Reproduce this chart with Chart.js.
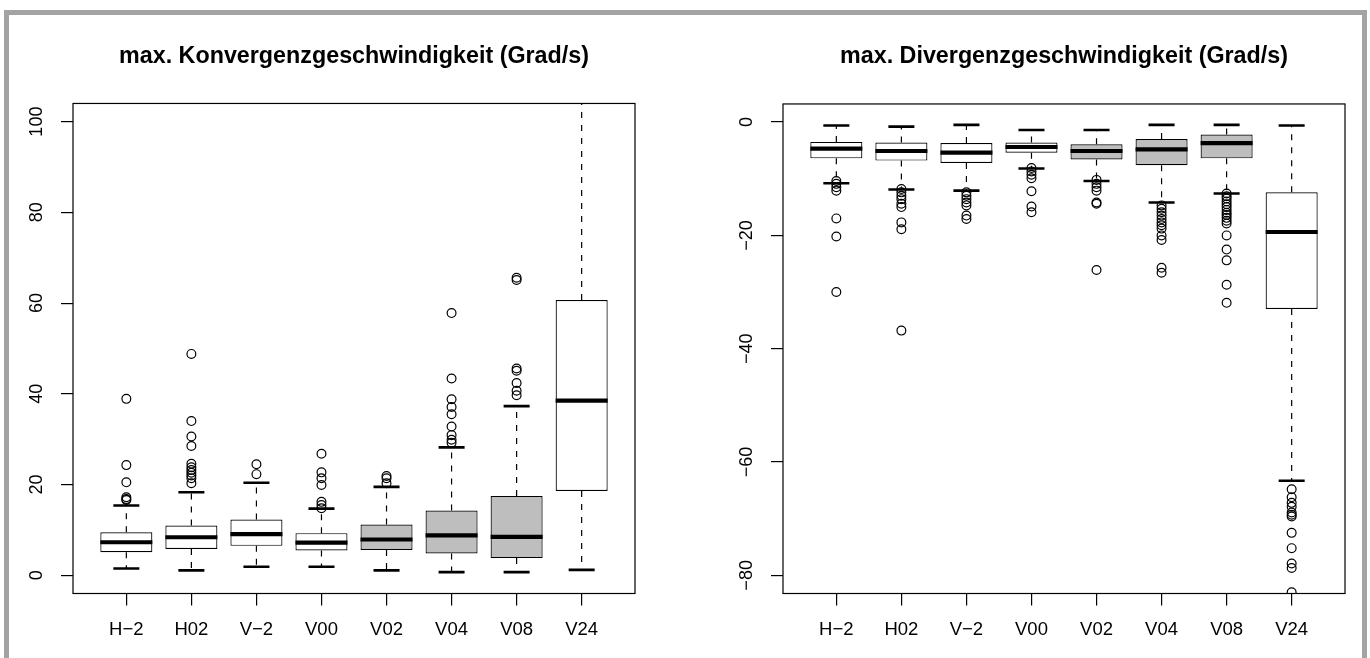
<!DOCTYPE html>
<html>
<head>
<meta charset="utf-8">
<script src="https://cdn.jsdelivr.net/npm/chart.js@4.4.1/dist/chart.umd.min.js"></script>
<style>
  body { margin: 0; background: #fff; width: 1370px; height: 658px; overflow: hidden; position: relative; }
  #frame { position: absolute; left: 4px; top: 10px; width: 1353px; height: 700px; border: 5px solid #a3a3a3; border-bottom: none; }
  #convChart { position: absolute; left: 0; top: 0; }
  #divChart { position: absolute; left: 700px; top: 0; }
</style>
</head>
<body>
<div id="frame"></div>
<canvas id="convChart" width="700" height="658"></canvas>
<canvas id="divChart" width="670" height="658"></canvas>
<script>
// categories (same for both panels)
const categories = ["H\u22122", "H02", "V\u22122", "V00", "V02", "V04", "V08", "V24"];

// max. Konvergenzgeschwindigkeit
const convLow = [1.5, 1.1, 1.9, 1.9, 1.1, 0.7, 0.7, 1.2];
const convQ1 = [5.1, 5.8, 6.5, 5.5, 5.6, 4.8, 3.8, 18.6];
const convMed = [7.3, 8.4, 9.1, 7.2, 7.9, 8.8, 8.5, 38.5];
const convQ3 = [9.5, 11.0, 12.3, 9.3, 11.2, 14.3, 17.5, 60.7];
const convHigh = [15.4, 18.3, 20.4, 14.7, 19.5, 28.2, 37.3, 130];
const convOutliers = [
  [38.9, 24.3, 20.5, 17.2, 16.8, 16.6],
  [48.8, 34.0, 30.6, 28.5, 24.6, 23.8, 23.2, 22.6, 22.0, 21.4, 20.3],
  [24.5, 22.3],
  [26.8, 22.7, 21.4, 19.9, 16.2, 15.5, 14.8],
  [21.9, 21.4, 20.3],
  [57.8, 43.4, 38.8, 37.1, 35.5, 32.8, 30.9, 29.9, 29.2],
  [65.6, 65.1, 45.6, 45.1, 42.4, 40.7, 39.7],
  [],
];
const convTicks = [0, 20, 40, 60, 80, 100];

// max. Divergenzgeschwindigkeit
const divLow = [-10.8, -11.9, -12.1, -8.2, -10.4, -14.2, -12.6, -63.3];
const divQ1 = [-6.4, -6.8, -7.2, -5.4, -6.6, -7.6, -6.4, -33.0];
const divMed = [-4.7, -5.1, -5.4, -4.4, -5.1, -4.8, -3.7, -19.4];
const divQ3 = [-3.5, -3.6, -3.7, -3.6, -3.9, -3.0, -2.2, -12.4];
const divHigh = [-0.6, -0.8, -0.5, -1.4, -1.4, -0.5, -0.5, -0.6];
const divOutliers = [
  [-10.4, -10.9, -11.5, -12.1, -17.0, -20.2, -30.0],
  [-11.8, -12.4, -13.0, -13.6, -14.4, -15.0, -17.7, -18.9, -36.8],
  [-12.4, -13.0, -13.6, -14.2, -14.7, -16.5, -17.1],
  [-8.1, -8.7, -9.3, -9.9, -12.2, -14.9, -15.9],
  [-10.2, -10.9, -11.5, -12.1, -14.2, -14.4, -26.1],
  [-14.7, -15.3, -15.9, -16.5, -17.1, -17.7, -18.2, -18.8, -20.0, -20.8, -25.7, -26.6],
  [-12.6, -13.1, -13.5, -14.0, -14.5, -15.0, -15.5, -16.0, -16.4, -16.9, -17.4, -17.9, -20.0, -22.5, -24.4, -28.7, -31.9],
  [-64.8, -66.2, -67.2, -67.9, -68.9, -69.3, -69.6, -72.5, -75.2, -77.9, -78.7, -83.0],
];
const divTicks = [-80, -60, -40, -20, 0];

// box fill per category (grey for V02, V04, V08)
const boxFill = ["#ffffff", "#ffffff", "#ffffff", "#ffffff", "#bebebe", "#bebebe", "#bebebe", "#ffffff"];

Chart.defaults.font.family = '"Liberation Sans", Arial, sans-serif';
Chart.defaults.color = "#000";

// plot frame like R's box()
const boxFrame = {
  id: "boxFrame",
  afterDatasetsDraw(chart) {
    const a = chart.chartArea;
    const ctx = chart.ctx;
    ctx.save();
    ctx.strokeStyle = "#000";
    ctx.lineWidth = 1.2;
    ctx.strokeRect(a.left, a.top, a.right - a.left, a.bottom - a.top);
    ctx.restore();
  },
};

function drawBoxplot(id, lo, q1, med, q3, hi, outliers, yMin, yMax, yTicks, title, cfg) {
  const whiskers = [];
  const caps = [];
  const medians = [];
  const boxes = [];
  const points = [];
  categories.forEach((c, i) => {
    const x = i + 1;
    whiskers.push({ x, y: q3[i] }, { x, y: hi[i] }, { x, y: null }, { x, y: q1[i] }, { x, y: lo[i] }, { x, y: null });
    caps.push({ x: x - 0.2, y: hi[i] }, { x: x + 0.2, y: hi[i] }, { x, y: null });
    caps.push({ x: x - 0.2, y: lo[i] }, { x: x + 0.2, y: lo[i] }, { x, y: null });
    medians.push({ x: x - 0.4, y: med[i] }, { x: x + 0.4, y: med[i] }, { x, y: null });
    boxes.push({ x, y: [q1[i], q3[i]] });
    outliers[i].forEach((v) => points.push({ x, y: v }));
  });

  return new Chart(document.getElementById(id), {
    type: "bar",
    data: {
      datasets: [
        {
          type: "scatter",
          data: points,
          pointStyle: "circle",
          pointRadius: 4.4,
          borderWidth: 1.2,
          borderColor: "#000",
          backgroundColor: "rgba(0,0,0,0)",
          clip: 0,
        },
        { type: "line", data: caps, borderColor: "#000", borderWidth: 2.6, pointRadius: 0, spanGaps: false, clip: 0 },
        { type: "line", data: medians, borderColor: "#000", borderWidth: 4.2, pointRadius: 0, spanGaps: false, clip: 0 },
        {
          type: "bar",
          data: boxes,
          backgroundColor: boxFill,
          borderColor: "#000",
          borderWidth: 1.2,
          borderSkipped: false,
          barPercentage: 1,
          categoryPercentage: 0.8,
          grouped: false,
        },
        {
          type: "line",
          data: whiskers,
          borderColor: "#000",
          borderWidth: 1.2,
          borderDash: [6, 7],
          pointRadius: 0,
          spanGaps: false,
          clip: 0,
        },
      ],
    },
    options: {
      responsive: false,
      animation: false,
      events: [],
      layout: { padding: { left: 0, right: cfg.padRight, top: 0, bottom: 0 } },
      plugins: {
        legend: { display: false },
        tooltip: { enabled: false },
        title: {
          display: true,
          text: title,
          fullSize: false,
          color: "#000",
          font: { size: 23.3, weight: "bold" },
          padding: { top: 43, bottom: cfg.titleBottom },
        },
      },
      scales: {
        x: {
          type: "linear",
          min: 0.18,
          max: 8.82,
          offset: false,
          afterFit: (s) => { s.height = cfg.xHeight; },
          afterBuildTicks: (s) => { s.ticks = categories.map((c, i) => ({ value: i + 1 })); },
          grid: { drawOnChartArea: false, tickLength: 12, color: "#000", lineWidth: 1.2, offset: false },
          border: { display: false },
          ticks: {
            autoSkip: false,
            maxRotation: 0,
            padding: 13,
            color: "#000",
            font: { size: 18.5 },
            callback: (v) => categories[v - 1],
          },
        },
        y: {
          type: "linear",
          min: yMin,
          max: yMax,
          afterFit: (s) => { s.width = cfg.yWidth; },
          afterBuildTicks: (s) => { s.ticks = yTicks.map((v) => ({ value: v })); },
          grid: { drawOnChartArea: false, tickLength: 12, color: "#000", lineWidth: 1.2 },
          border: { display: false },
          ticks: {
            minRotation: 90,
            maxRotation: 90,
            crossAlign: "center",
            padding: 8.5,
            color: "#000",
            font: { size: 18 },
            callback: (v) => String(v).replace("-", "\u2212"),
          },
        },
      },
    },
    plugins: [boxFrame],
  });
}

drawBoxplot("convChart", convLow, convQ1, convMed, convQ3, convHigh, convOutliers, -4, 104, convTicks,
  "max. Konvergenzgeschwindigkeit (Grad/s)", { padRight: 65, yWidth: 73, xHeight: 64.5, titleBottom: 32.5 });

drawBoxplot("divChart", divLow, divQ1, divMed, divQ3, divHigh, divOutliers, -83.2, 3.2, divTicks,
  "max. Divergenzgeschwindigkeit (Grad/s)", { padRight: 25, yWidth: 83, xHeight: 64.5, titleBottom: 33 });
</script>
</body>
</html>
